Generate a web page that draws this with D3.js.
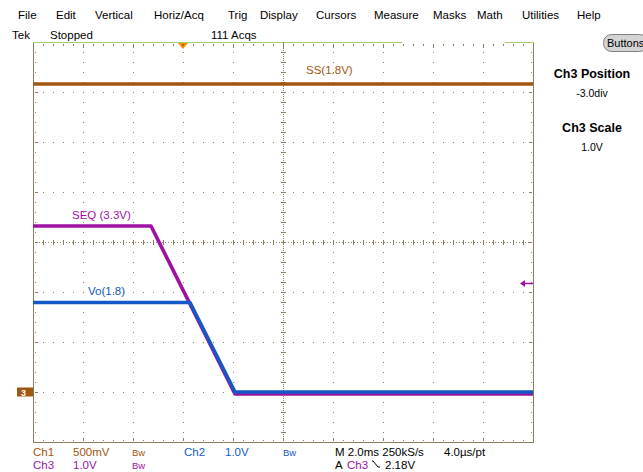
<!DOCTYPE html>
<html><head><meta charset="utf-8">
<script src="https://cdn.jsdelivr.net/npm/d3@7"></script>
<style>
body{margin:0;background:#fff;}
svg{display:block;}
text{font-family:"Liberation Sans",Arial,sans-serif;}
</style>
</head><body>
<svg id="c" width="643" height="472"></svg>
<script>
// ---------- data ----------
const menuItems = ["File","Edit","Vertical","Horiz/Acq","Trig","Display","Cursors","Measure","Masks","Math","Utilities","Help"];
const statusItems = ["Tek","Stopped","111 Acqs"];
const timeTicksMs = [-6,-4,-2,0,2,4,6,8,10,12,14];   // 2 ms/div
const divTicks = [-4,-3,-2,-1,0,1,2,3,4];
const ssTimeMs  = [-6, 14];
const ssVolts   = [3.08, 3.08];
const seqTimeMs = [-6, -1.28, 2.08, 14];
const seqVolts  = [3.32, 3.32, -0.04, -0.04];
const voTimeMs  = [-6, 0.28, 2.08, 14];
const voVolts   = [1.79, 1.79, 0, 0];
const voltsPerDiv = {ch1:0.5, ch2:1.0, ch3:1.0};
const positionDiv = -3.0;
const triggerTimeMs = 0;
const triggerLevelV = 2.18;
const labels = {ss:"SS(1.8V)", seq:"SEQ (3.3V)", vo:"Vo(1.8)"};

// ---------- layout ----------
const menuX = [18,56,95,154,228,260,316,374,433,477,522,577];
const statusX = [12,50,211];
const L=33, R=533, T=42, B=442;
const col = {ch1:"#a3560f", ch2:"#1358c4", ch3:"#a010a4", grid:"#8a7d5e", green:"#a8cc74", trig:"#ff8a00"};

const svg = d3.select("#c");
svg.append("rect").attr("width",643).attr("height",472).attr("fill","#fff");

const x = d3.scaleLinear().domain([-6,14]).range([L,R]);
const y = d3.scaleLinear().domain([-4,4]).range([B,T]);
const toDiv = (v,ch)=> v/voltsPerDiv[ch] + positionDiv;

// menu
svg.append("g").selectAll("text").data(menuItems).join("text")
  .attr("x",(d,i)=>menuX[i]).attr("y",19).attr("font-size",11.5).attr("fill","#000").text(d=>d);
svg.append("g").selectAll("text").data(statusItems).join("text")
  .attr("x",(d,i)=>statusX[i]).attr("y",39).attr("font-size",11.5).attr("fill","#000").text(d=>d);

// grid
const g = svg.append("g").attr("shape-rendering","crispEdges");
timeTicksMs.slice(1,-1).forEach(t=>{
  const xx = Math.round(x(t));
  if (t===4) {
    g.append("line").attr("x1",xx+0.5).attr("x2",xx+0.5).attr("y1",T).attr("y2",B)
      .attr("stroke",col.grid).attr("stroke-dasharray","1,1");
    d3.range(T+10,B,10).forEach(yy=>{
      g.append("line").attr("x1",xx-2).attr("x2",xx+3).attr("y1",yy+0.5).attr("y2",yy+0.5).attr("stroke",col.grid);
    });
  } else {
    g.append("line").attr("x1",xx+0.5).attr("x2",xx+0.5).attr("y1",T+10).attr("y2",B)
      .attr("stroke",col.grid).attr("stroke-dasharray","1,9");
  }
});
divTicks.slice(1,-1).forEach(dv=>{
  const yy = Math.round(y(dv));
  if (dv===0) {
    g.append("line").attr("x1",L).attr("x2",R).attr("y1",yy+0.5).attr("y2",yy+0.5)
      .attr("stroke",col.grid).attr("stroke-dasharray","1,2");
    d3.range(L+10,R,10).forEach(xx=>{
      g.append("line").attr("x1",xx+0.5).attr("x2",xx+0.5).attr("y1",yy-2).attr("y2",yy+3).attr("stroke",col.grid);
    });
  } else {
    g.append("line").attr("x1",L+10).attr("x2",R).attr("y1",yy+0.5).attr("y2",yy+0.5)
      .attr("stroke",col.grid).attr("stroke-dasharray","1,9");
  }
});
// edge ticks
d3.range(T+10,B,10).forEach(yy=>{
  const major = (yy-T)%50===0;
  g.append("rect").attr("x",L+2).attr("y",yy).attr("width",major?3:1).attr("height",1).attr("fill",col.grid);
  g.append("rect").attr("x",R-(major?4:2)).attr("y",yy).attr("width",major?3:1).attr("height",1).attr("fill",col.grid);
});
d3.range(L+10,R,10).forEach(xx=>{
  const major = (xx-L)%50===0;
  g.append("rect").attr("x",xx).attr("y",T+2).attr("width",1).attr("height",major?4:2).attr("fill",col.grid);
  g.append("rect").attr("x",xx).attr("y",B-(major?4:2)).attr("width",1).attr("height",major?3:1).attr("fill",col.grid);
});
// borders
g.append("line").attr("x1",L+0.5).attr("x2",L+0.5).attr("y1",T).attr("y2",B+1).attr("stroke",col.grid);
g.append("line").attr("x1",R+0.5).attr("x2",R+0.5).attr("y1",T).attr("y2",B+1).attr("stroke",col.grid);
g.append("line").attr("x1",L).attr("x2",R+1).attr("y1",B+0.5).attr("y2",B+0.5).attr("stroke",col.grid);
g.append("line").attr("x1",L).attr("x2",402).attr("y1",T+0.5).attr("y2",T+0.5).attr("stroke",col.green).attr("stroke-width",1.5);
g.append("line").attr("x1",505).attr("x2",R+1).attr("y1",T+0.5).attr("y2",T+0.5).attr("stroke",col.green).attr("stroke-width",1.5);
g.append("line").attr("x1",283.5).attr("x2",283.5).attr("y1",T).attr("y2",T+7).attr("stroke",col.grid);

// traces
const line = d3.line();
function trace(times, volts, ch, color){
  const pts = times.map((t,i)=>[x(t), y(toDiv(volts[i],ch))]);
  svg.append("path").attr("d",line(pts)).attr("fill","none").attr("stroke",color)
    .attr("stroke-width",3.6).attr("stroke-linejoin","round");
}
trace(ssTimeMs, ssVolts, "ch1", col.ch1);
trace(seqTimeMs, seqVolts, "ch3", col.ch3);
trace(voTimeMs, voVolts, "ch2", col.ch2);

// trace labels
svg.append("text").attr("x",306).attr("y",74).attr("font-size",11.5).attr("fill",col.ch1).text(labels.ss);
svg.append("text").attr("x",72).attr("y",219).attr("font-size",11.5).attr("fill",col.ch3).text(labels.seq);
svg.append("text").attr("x",88).attr("y",295).attr("font-size",11.5).attr("fill",col.ch2).text(labels.vo);

// trigger position marker
const tx = x(triggerTimeMs);
svg.append("path").attr("d",`M${tx-5},${T+1} L${tx+5},${T+1} L${tx},${T+7} Z`).attr("fill",col.trig);
svg.append("rect").attr("x",tx-0.5).attr("y",T+2).attr("width",1).attr("height",2).attr("fill","#7a4000");

// trigger level arrow (ch3)
const ty = Math.round(y(toDiv(triggerLevelV,"ch3")));
svg.append("line").attr("x1",522).attr("x2",R).attr("y1",ty+0.5).attr("y2",ty+0.5).attr("stroke",col.ch3).attr("stroke-width",1.5);
svg.append("path").attr("d",`M520,${ty+0.5} L525,${ty-3} L525,${ty+4} Z`).attr("fill",col.ch3);

// ground marker
const gy = y(positionDiv);
svg.append("rect").attr("x",17).attr("y",gy-4.5).attr("width",16).attr("height",9).attr("fill","#a3560f");
svg.append("text").attr("x",21).attr("y",gy+4).attr("font-size",9).attr("font-weight","bold").attr("fill","#fff").text("3");

// buttons pill
svg.append("rect").attr("x",603.5).attr("y",34.5).attr("width",44).attr("height",17).attr("rx",8)
  .attr("fill","#d4d4d4").attr("stroke","#808080");
svg.append("text").attr("x",607).attr("y",47).attr("font-size",11).attr("fill","#000").text("Buttons");

// right panel
const rp = [["Ch3 Position",78,true],["-3.0div",97,false],["Ch3 Scale",132,true],["1.0V",151,false]];
svg.append("g").selectAll("text").data(rp).join("text")
  .attr("x",592).attr("y",d=>d[1]).attr("text-anchor","middle")
  .attr("font-size",d=>d[2]?12.5:10.5).attr("font-weight",d=>d[2]?"bold":"normal")
  .attr("fill","#000").text(d=>d[0]);

// bottom status
const bottom = [
  ["Ch1",33,456,col.ch1,11.5],["500mV",73,456,col.ch1,11.5],["Bw",132,456,col.ch1,9.5],
  ["Ch2",184,456,col.ch2,11.5],["1.0V",225,456,col.ch2,11.5],["Bw",283,456,col.ch2,9.5],
  ["M 2.0ms 250kS/s",335,456,"#000",11.5],["4.0µs/pt",444,456,"#000",11.5],
  ["Ch3",33,469,col.ch3,11.5],["1.0V",73,469,col.ch3,11.5],["Bw",132,469,col.ch3,9.5],
  ["A",335,469,"#000",11.5],["Ch3",347,469,col.ch3,11.5],["2.18V",385,469,"#000",11.5]
];
svg.append("g").selectAll("text").data(bottom).join("text")
  .attr("x",d=>d[1]).attr("y",d=>d[2]).attr("fill",d=>d[3]).attr("font-size",d=>d[4]).text(d=>d[0]);
svg.append("path").attr("d","M372,461 L373,461 L378,467 L380,467").attr("fill","none").attr("stroke","#000").attr("stroke-width",1);
</script>
</body></html>
